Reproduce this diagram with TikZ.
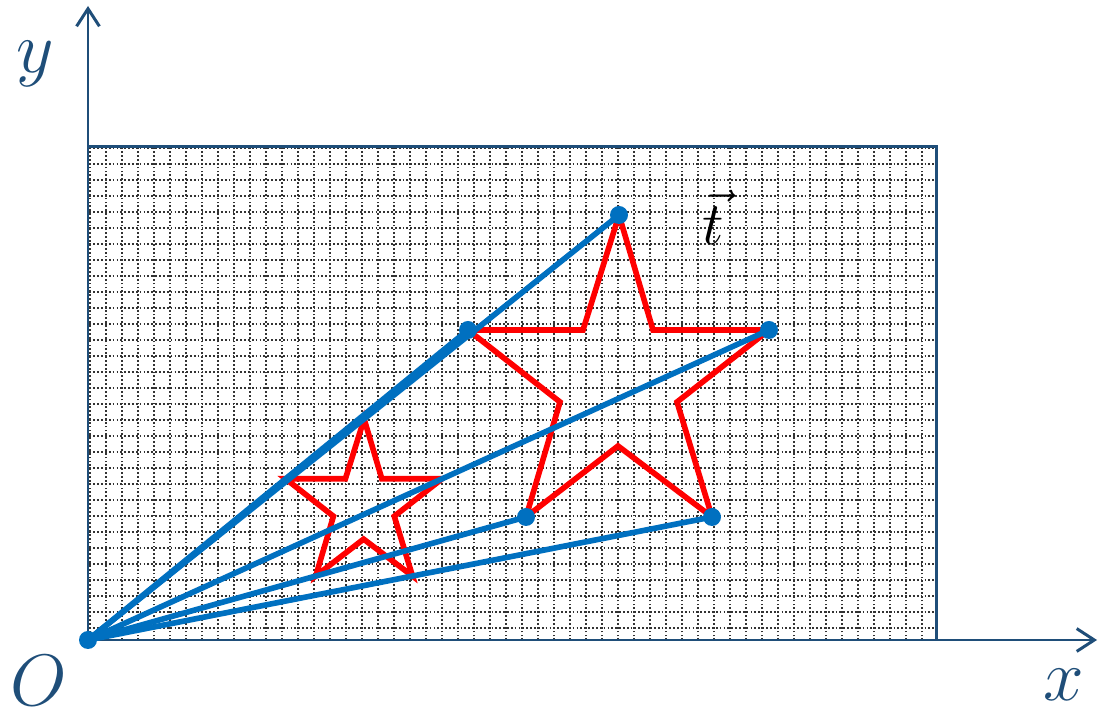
\documentclass[tikz,border=0pt]{standalone}
\usetikzlibrary{arrows.meta,calc}
\definecolor{axisBlue}{HTML}{1F4E79}
\definecolor{rayBlue}{HTML}{0070C0}
\definecolor{gridGray}{HTML}{333333}
\begin{document}
\begin{tikzpicture}[
    transStarGrid/.style={gridGray, line width=0.45pt, dash pattern=on 0.5pt off 0.6pt},
    transStarFrame/.style={axisBlue, line width=0.85pt},
    transStarAxis/.style={axisBlue, line width=0.85pt,
        -{Straight Barb[length=5pt,width=6.5pt,line width=0.85pt]}},
    transStarLabel/.style={axisBlue, inner sep=0pt, font=\fontsize{22}{26}\selectfont},
    transStarShape/.style={red, line width=1.6pt, line join=miter},
    transStarRay/.style={rayBlue, line width=1.6pt},
    transStarDot/.style={circle, fill=rayBlue, inner sep=0pt, minimum size=0.18cm}
]
    \useasboundingbox (-0.88,-0.71) rectangle (10.10,6.40);

    % 网格
    \begin{scope}
        \clip (0,0) rectangle (8.48,4.93);
        \draw[transStarGrid, shift={(0.02,0.12)}] (-0.16,-0.16) grid[step=0.16] (8.6,5);
    \end{scope}
    \draw[transStarFrame] (0,0) rectangle (8.48,4.93);

    % 坐标轴
    \coordinate (O) at (0,0);
    \coordinate (xEnd) at (10.09,0);
    \coordinate (yEnd) at (0,6.34);
    \draw[transStarAxis] (O) -- (xEnd);
    \draw[transStarAxis] (O) -- (yEnd);
    \node[transStarLabel] (xLabel) at (9.76,-0.45) {$x$};
    \node[transStarLabel] (yLabel) at (-0.53,5.76) {$y$};
    \node[transStarLabel] (oLabel) at (-0.49,-0.41) {$O$};

    % 大五角星
    \coordinate (A1) at (5.31,4.25);
    \coordinate (A2) at (5.65,3.10);
    \coordinate (A3) at (6.81,3.10);
    \coordinate (A4) at (5.89,2.38);
    \coordinate (A5) at (6.24,1.23);
    \coordinate (A6) at (5.30,1.94);
    \coordinate (A7) at (4.38,1.23);
    \coordinate (A8) at (4.72,2.38);
    \coordinate (A9) at (3.80,3.10);
    \coordinate (A10) at (4.95,3.10);

    % 小五角星 (缩放)
    \foreach \i in {1,...,10}
        \coordinate (B\i) at ($0.52*(A\i)$);

    \draw[transStarShape] (A1) \foreach \i in {2,...,10} {-- (A\i)} -- cycle;
    \draw[transStarShape] (B1) \foreach \i in {2,...,10} {-- (B\i)} -- cycle;

    % 射线
    \foreach \i in {1,3,5,7,9}
        \draw[transStarRay] (O) -- (A\i);
    \foreach \i in {1,3,5,7,9}
        \node[transStarDot] (dotA\i) at (A\i) {};
    \node[transStarDot] (dotO) at (O) {};

    % 平移向量
    \node[inner sep=0pt, font=\fontsize{16}{19}\selectfont] (tLabel) at (6.25,4.23) {$\vec{t}$};
\end{tikzpicture}
\end{document}
